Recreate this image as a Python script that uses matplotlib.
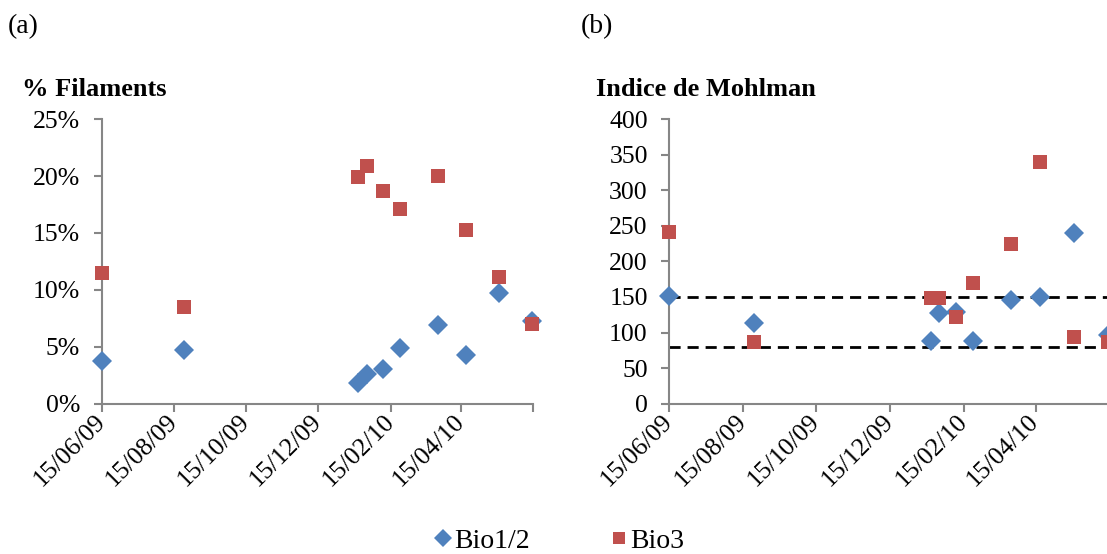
import matplotlib
matplotlib.use("Agg")
import matplotlib.pyplot as plt
import matplotlib.dates as mdates
from matplotlib.lines import Line2D
import datetime as dt

plt.rcParams['font.family'] = ['Liberation Serif', 'DejaVu Serif']

# ---- data ----
dates = ["2009-06-15", "2009-08-24", "2010-01-18", "2010-01-25", "2010-02-08",
         "2010-02-22", "2010-03-26", "2010-04-19", "2010-05-17", "2010-06-14"]
fil_bio12 = [3.7, 4.7, 1.8, 2.6, 3.0, 4.9, 6.9, 4.3, 9.75, 7.3]      # % filaments
fil_bio3 = [11.5, 8.5, 19.9, 20.9, 18.7, 17.1, 20.0, 15.3, 11.1, 7.0]
moh_bio12 = [152, 113, 88, 128, 129, 88, 146, 150, 240, 96]         # Mohlman index
moh_bio3 = [241, 86, 148, 148, 122, 170, 225, 339, 94, 86]
moh_thresholds = [150, 80]
tick_dates = ["2009-06-15", "2009-08-15", "2009-10-15", "2009-12-15",
              "2010-02-15", "2010-04-15", "2010-06-15"]
tick_labels = ["15/06/09", "15/08/09", "15/10/09", "15/12/09", "15/02/10", "15/04/10", ""]
series_names = ["Bio1/2", "Bio3"]
titles = ["% Filaments", "Indice de Mohlman"]
panel_tags = ["(a)", "(b)"]

BLUE = "#4F81BD"
RED = "#C0504D"
SPINE = "#868686"
FS = 20
TFS = 18.5

xd = [dt.datetime.strptime(d, "%Y-%m-%d") for d in dates]
td = [dt.datetime.strptime(d, "%Y-%m-%d") for d in tick_dates]

W, H = 1107, 554
fig = plt.figure(figsize=(W / 100, H / 100), dpi=100)

def px_axes(left, top, right, bottom):
    return fig.add_axes([left / W, 1 - bottom / H, (right - left) / W, (bottom - top) / H])

axa = px_axes(101.7, 119.3, 533.3, 403.5)
axb = px_axes(669.3, 119.0, 1109.0, 403.7)

def style(ax):
    for s in ['top', 'right']:
        ax.spines[s].set_visible(False)
    for s in ['left', 'bottom']:
        ax.spines[s].set_color(SPINE)
        ax.spines[s].set_linewidth(1.5)
    ax.tick_params(axis='both', colors=SPINE, width=1.5, length=5.5, labelsize=TFS,
                   labelcolor='black', direction='out')
    ax.tick_params(axis='y', pad=10)
    ax.set_xlim(td[0], td[-1])
    ax.set_xticks(mdates.date2num(td))
    ax.set_xticklabels(tick_labels, rotation=45, ha='right', va='center',
                       rotation_mode='anchor')
    ax.tick_params(axis='x', pad=5)

mk = dict(linestyle='none', clip_on=False, zorder=3)

# panel a
style(axa)
axa.plot(xd, fil_bio12, marker='D', markersize=10, color=BLUE, markeredgewidth=0, **mk)
axa.plot(xd, fil_bio3, marker='s', markersize=10, color=RED, markeredgewidth=0, **mk)
axa.set_ylim(0, 25)
axa.set_yticks([0, 5, 10, 15, 20, 25])
axa.set_yticklabels([f"{v}%" for v in [0, 5, 10, 15, 20, 25]])

# panel b
style(axb)
for t in moh_thresholds:
    axb.axhline(t, color='black', linestyle=(0, (4, 2.5)), linewidth=2, zorder=2)
axb.plot(xd, moh_bio12, marker='D', markersize=10, color=BLUE, markeredgewidth=0, **mk)
axb.plot(xd, moh_bio3, marker='s', markersize=10, color=RED, markeredgewidth=0, **mk)
axb.set_ylim(0, 400)
axb.set_yticks(range(0, 401, 50))

# titles and panel tags
fig.text(22 / W, 1 - 96 / H, titles[0], fontsize=19, fontweight='bold', ha='left', va='baseline')
fig.text(596 / W, 1 - 96 / H, titles[1], fontsize=19, fontweight='bold', ha='left', va='baseline')
fig.text(8 / W, 1 - 33 / H, panel_tags[0], fontsize=FS, ha='left', va='baseline')
fig.text(581 / W, 1 - 33 / H, panel_tags[1], fontsize=FS, ha='left', va='baseline')

# legend
handles = [Line2D([], [], marker='D', color=BLUE, linestyle='none', markersize=9.5, markeredgewidth=0),
           Line2D([], [], marker='s', color=RED, linestyle='none', markersize=8.5, markeredgewidth=0)]
fig.legend(handles, series_names, loc='center', bbox_to_anchor=(560 / W, 1 - 541 / H),
           ncol=2, frameon=False, fontsize=FS, handlelength=0.55, handletextpad=0.12,
           columnspacing=2.95, borderaxespad=0)

fig.savefig("out.png", dpi=100)
